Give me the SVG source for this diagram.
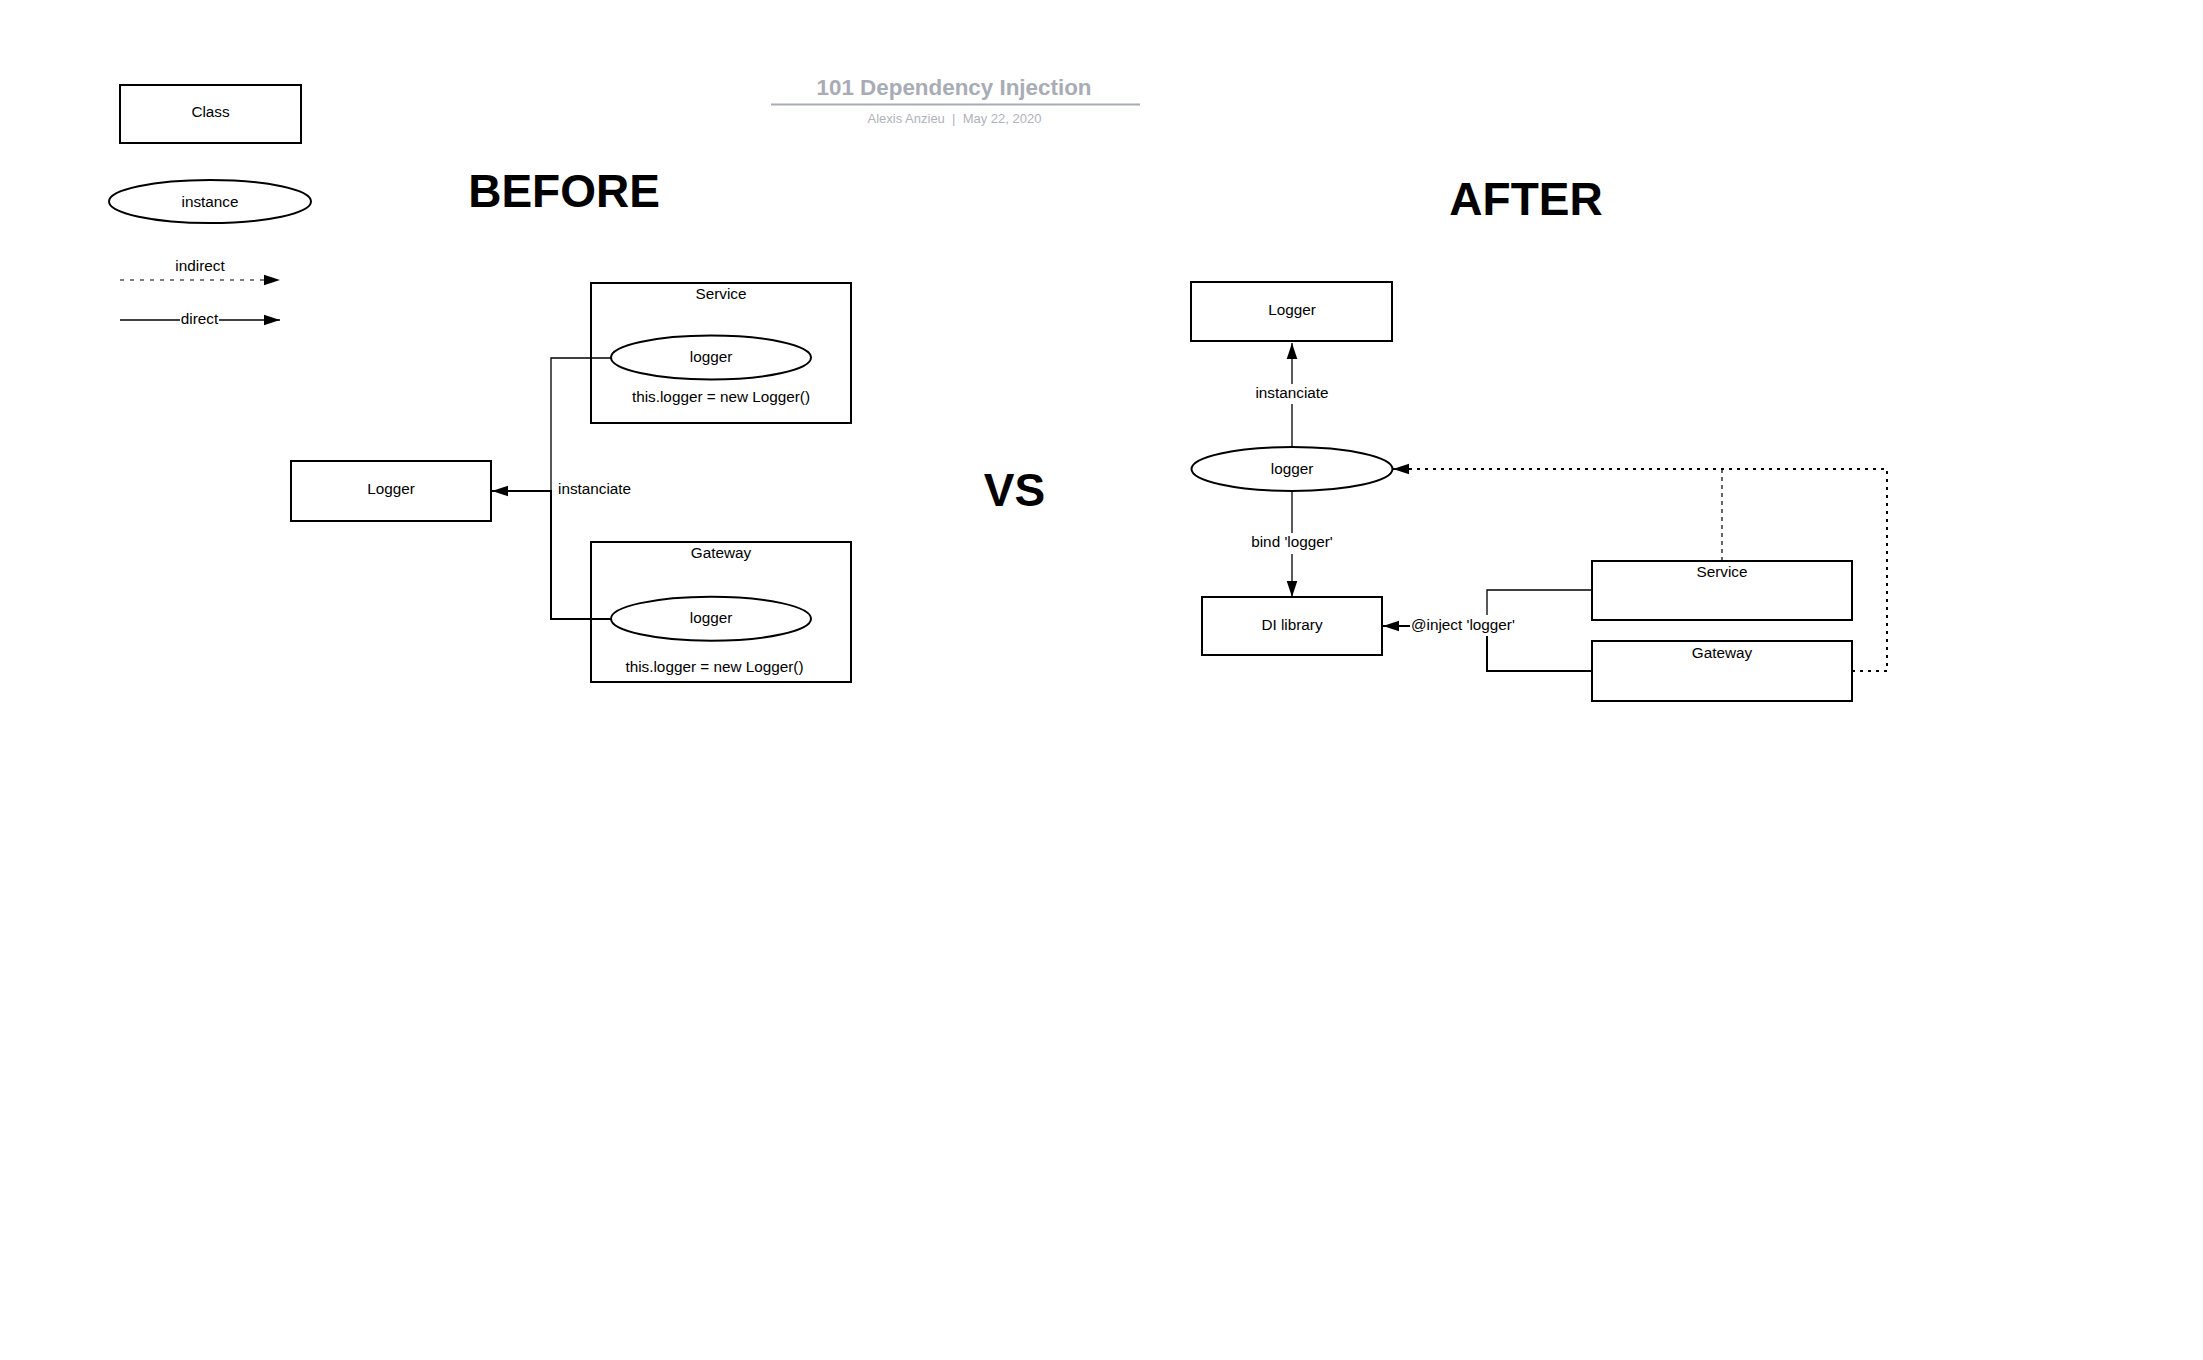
<svg xmlns="http://www.w3.org/2000/svg" width="2203" height="1360" viewBox="0 0 2203 1360">
<style>
  text { font-family: "Liberation Sans", Arial, sans-serif; fill: #000; }
  .lbl { font-size: 15.3px; text-anchor: middle; }
  .big { font-size: 46px; font-weight: bold; text-anchor: middle; }
  .box { fill: #fff; stroke: #000; stroke-width: 2; }
  .conn { fill: none; stroke: #000; stroke-width: 2; }
  .thin { fill: none; stroke: #000; stroke-width: 1.3; }
  .dot { fill: none; stroke: #000; stroke-width: 2; stroke-dasharray: 3 5; }
  .dash { fill: none; stroke: #000; stroke-width: 1.2; stroke-dasharray: 4 4; }
  .bg { fill: #fff; }
</style>
<defs>
  <marker id="arrow" markerUnits="userSpaceOnUse" markerWidth="17" markerHeight="12" refX="16" refY="6" orient="auto">
    <path d="M0,0.7 L16,6 L0,11.3 Z" fill="#000"/>
  </marker>
</defs>
<rect width="2203" height="1360" fill="#fff"/>

<g id="title">
  <text x="954" y="95" style="font-size:22.4px;font-weight:bold;fill:#a8acb6;text-anchor:middle">101 Dependency Injection</text>
  <line x1="771" y1="104.5" x2="1140" y2="104.5" stroke="#a8acb6" stroke-width="2"/>
  <text x="954.5" y="123" style="font-size:13px;fill:#b0b3ba;text-anchor:middle">Alexis Anzieu&#160;&#160;|&#160;&#160;May 22, 2020</text>
</g>

<g id="legend">
  <g id="legend-class">
    <rect class="box" x="120" y="85" width="181" height="58"/>
    <text class="lbl" x="210.5" y="117">Class</text>
  </g>
  <g id="legend-instance">
    <ellipse class="box" cx="210" cy="201.5" rx="101" ry="21.5"/>
    <text class="lbl" x="210" y="206.5">instance</text>
  </g>
  <g id="legend-indirect">
    <path d="M120,280 H280" fill="none" stroke="#000" stroke-width="1" stroke-dasharray="4 6" marker-end="url(#arrow)"/>
    <text class="lbl" x="200" y="271">indirect</text>
  </g>
  <g id="legend-direct">
    <path d="M120,320 H280" fill="none" stroke="#000" stroke-width="1.5" marker-end="url(#arrow)"/>
    <rect class="bg" x="180" y="309" width="39" height="18"/>
    <text class="lbl" x="199.5" y="323.5">direct</text>
  </g>
</g>

<text class="big" x="564" y="207">BEFORE</text>
<text class="big" x="1014.5" y="506">VS</text>
<text class="big" x="1526" y="215">AFTER</text>

<g id="connectors">
  <path class="thin" d="M611,358 H551 V491"/>
  <path class="conn" d="M611,619 H551 V491 H492" marker-end="url(#arrow)"/>
  <path class="thin" d="M1292,447 V343" marker-end="url(#arrow)"/>
  <path class="thin" d="M1292,491 V597" marker-end="url(#arrow)"/>
  <path class="thin" d="M1592,590 H1487 V626"/>
  <path class="conn" d="M1592,671 H1487 V626 H1383" marker-end="url(#arrow)"/>
  <path class="dash" d="M1722,561 V469"/>
  <path class="dot" d="M1852,671 H1887 V469 H1393" marker-end="url(#arrow)"/>
</g>

<g id="connector-labels">
  <text class="lbl" x="558" y="494" style="text-anchor:start">instanciate</text>
  <rect class="bg" x="1254" y="384" width="76" height="20"/>
  <text class="lbl" x="1292" y="398">instanciate</text>
  <rect class="bg" x="1248" y="533" width="88" height="21"/>
  <text class="lbl" x="1292" y="547">bind 'logger'</text>
  <rect class="bg" x="1410" y="615" width="106" height="21"/>
  <text class="lbl" x="1411" y="630" style="text-anchor:start">@inject 'logger'</text>
</g>

<g id="before-logger">
  <rect class="box" x="291" y="461" width="200" height="60"/>
  <text class="lbl" x="391" y="494">Logger</text>
</g>
<g id="before-service">
  <rect class="box" x="591" y="283" width="260" height="140" style="fill:none"/>
  <text class="lbl" x="721" y="299">Service</text>
  <text class="lbl" x="721" y="402">this.logger = new Logger()</text>
</g>
<g id="before-service-logger">
  <ellipse class="box" cx="711" cy="357.5" rx="100" ry="22"/>
  <text class="lbl" x="711" y="362">logger</text>
</g>
<g id="before-gateway">
  <rect class="box" x="591" y="542" width="260" height="140" style="fill:none"/>
  <text class="lbl" x="721" y="558">Gateway</text>
  <text class="lbl" x="714.5" y="672">this.logger = new Logger()</text>
</g>
<g id="before-gateway-logger">
  <ellipse class="box" cx="711" cy="618.7" rx="100" ry="22"/>
  <text class="lbl" x="711" y="623">logger</text>
</g>

<g id="after-logger">
  <rect class="box" x="1191" y="282" width="201" height="59"/>
  <text class="lbl" x="1292" y="315">Logger</text>
</g>
<g id="after-logger-instance">
  <ellipse class="box" cx="1292" cy="469" rx="100.5" ry="22"/>
  <text class="lbl" x="1292" y="474">logger</text>
</g>
<g id="after-di-library">
  <rect class="box" x="1202" y="597" width="180" height="58"/>
  <text class="lbl" x="1292" y="630">DI library</text>
</g>
<g id="after-service">
  <rect class="box" x="1592" y="561" width="260" height="59"/>
  <text class="lbl" x="1722" y="577">Service</text>
</g>
<g id="after-gateway">
  <rect class="box" x="1592" y="641" width="260" height="60"/>
  <text class="lbl" x="1722" y="658">Gateway</text>
</g>
</svg>
